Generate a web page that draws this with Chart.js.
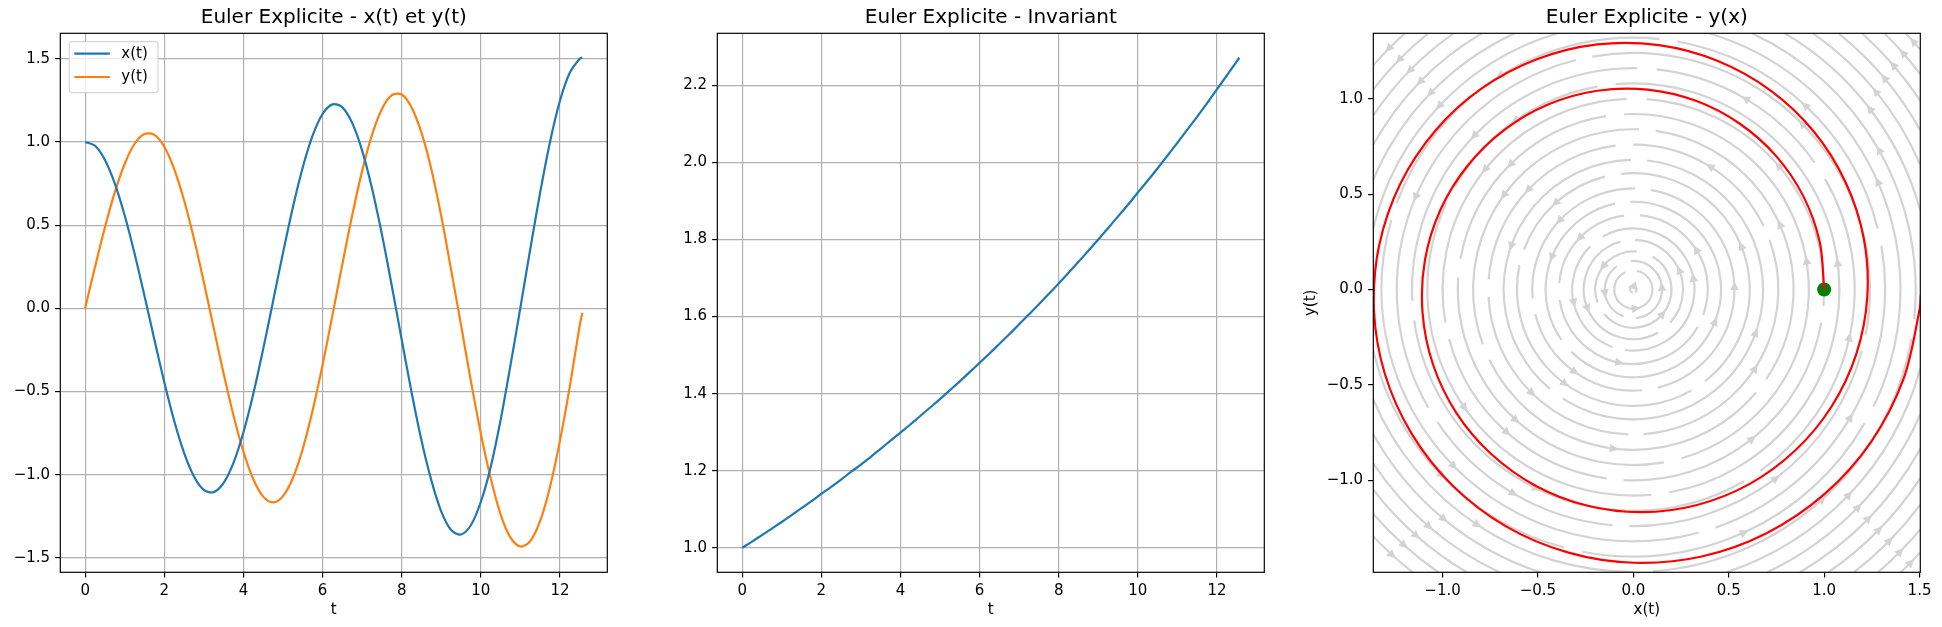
<!DOCTYPE html>
<html><head><meta charset="utf-8">
<script src="https://cdn.jsdelivr.net/npm/chart.js@4.4.0/dist/chart.umd.min.js"></script>
<style>
html,body{margin:0;padding:0;background:#fff;width:1942px;height:627px;overflow:hidden}
canvas{position:absolute;top:0}
</style></head><body>
<canvas id="c1" width="650" height="627" style="left:0px"></canvas>
<canvas id="c2" width="650" height="627" style="left:650px"></canvas>
<canvas id="c3" width="642" height="627" style="left:1300px"></canvas>
<script>
// ---------------- data ----------------
const tValues = [0,0.25,0.5,0.75,1,1.25,1.5,1.75,2,2.25,2.5,2.75,3,3.25,3.5,3.75,4,4.25,4.5,4.75,5,5.25,5.5,5.75,6,6.25,6.5,6.75,7,7.25,7.5,7.75,8,8.25,8.5,8.75,9,9.25,9.5,9.75,10,10.25,10.5,10.75,11,11.25,11.5,11.75,12,12.25,12.5,12.566];
const xValues = [1.000,0.977,0.892,0.750,0.558,0.328,0.074,-0.189,-0.444,-0.676,-0.869,-1.011,-1.092,-1.105,-1.050,-0.928,-0.745,-0.513,-0.244,0.044,0.334,0.608,0.848,1.039,1.168,1.226,1.208,1.113,0.948,0.720,0.443,0.134,-0.189,-0.506,-0.795,-1.036,-1.222,-1.333,-1.360,-1.303,-1.163,-0.952,-0.670,-0.340,0.006,0.358,0.698,1.003,1.249,1.417,1.501,1.507];
const yValues = [0.000,0.249,0.487,0.698,0.869,0.989,1.048,1.042,0.971,0.837,0.649,0.418,0.156,-0.120,-0.393,-0.646,-0.862,-1.028,-1.132,-1.167,-1.129,-1.020,-0.844,-0.613,-0.340,-0.041,0.266,0.561,0.826,1.043,1.198,1.281,1.285,1.207,1.054,0.835,0.553,0.228,-0.103,-0.440,-0.754,-1.023,-1.240,-1.379,-1.432,-1.399,-1.277,-1.071,-0.794,-0.466,-0.100,-0.027];
const invValues = [1.000,1.016,1.033,1.050,1.067,1.085,1.103,1.121,1.140,1.158,1.177,1.197,1.216,1.236,1.257,1.278,1.299,1.320,1.342,1.364,1.386,1.409,1.432,1.456,1.480,1.504,1.529,1.554,1.580,1.606,1.632,1.659,1.686,1.714,1.742,1.771,1.800,1.830,1.860,1.890,1.922,1.953,1.985,2.018,2.051,2.085,2.119,2.154,2.190,2.226,2.262,2.272];
const startPoint = [1, 0];

const tTicks = [0,2,4,6,8,10,12];
const xyTicks = [-1.5,-1.0,-0.5,0.0,0.5,1.0,1.5];
const invTicks = [1.0,1.2,1.4,1.6,1.8,2.0,2.2];
const phaseXTicks = [-1.0,-0.5,0.0,0.5,1.0,1.5];
const phaseYTicks = [-1.0,-0.5,0.0,0.5,1.0];

const titles = ['Euler Explicite - x(t) et y(t)', 'Euler Explicite - Invariant', 'Euler Explicite - y(x)'];
const seriesLabels = ['x(t)', 'y(t)'];

// streamlines of the background field: [radius, startAngleDeg, endAngleDeg], counter-clockwise,
// one arrow in the middle of each piece
const streamArcs = [
  [0.017, 300, 620],
  [0.10, 115, 440],
  [0.15, 125, 250], [0.15, 275, 455],
  [0.20, 85, 200], [0.20, 220, 420],
  [0.26, 105, 300], [0.26, 318, 448],
  [0.32, 135, 250], [0.32, 262, 480],
  [0.39, 97, 175], [0.39, 188, 330], [0.39, 340, 445],
  [0.46, 102, 215], [0.46, 225, 452],
  [0.53, 89, 185], [0.53, 194, 275], [0.53, 284, 440],
  [0.61, 104, 160], [0.61, 168, 300], [0.61, 308, 456],
  [0.68, 91, 230], [0.68, 237, 444],
  [0.76, 97, 176], [0.76, 183, 268], [0.76, 274, 380], [0.76, 26, 90],
  [0.84, 88, 200], [0.84, 206, 320], [0.84, 326, 442],
  [0.92, 99, 170], [0.92, 176, 280], [0.92, 286, 453],
  [1.00, 92, 190], [1.00, 195, 262], [1.00, 267, 350], [1.00, 355, 446],
  [1.08, 100, 150], [1.08, 155, 275], [1.08, 280, 455],
  [1.16, 89, 183], [1.16, 188, 300], [1.16, 305, 390], [1.16, 35, 84],
  [1.24, 104, 210], [1.24, 214, 265], [1.24, 269, 345], [1.24, 349, 460],
  [1.32, 84, 160], [1.32, 164, 285], [1.32, 289, 370], [1.32, 14, 80],
  [1.40, 106.4, 166.8], [1.40, 193.2, 255], [1.40, 259, 330], [1.40, 334, 433.6],
  [1.48, 114.8, 157.1], [1.48, 202.9, 270], [1.48, 274, 350], [1.48, 354, 425.2],
  [1.56, 120.6, 150.9], [1.56, 209.1, 251.8], [1.56, 288.2, 344.6], [1.56, 15.4, 59.4],
  [1.64, 125, 146.2], [1.64, 213.8, 244.6], [1.64, 295.4, 336.5], [1.64, 23.5, 55],
  [1.72, 128.7, 142.4], [1.72, 217.6, 239.5], [1.72, 300.5, 331], [1.72, 29, 51.3],
  [1.80, 131.7, 139.2], [1.80, 220.8, 235.4], [1.80, 304.6, 326.7], [1.80, 33.3, 48.3],
  [1.88, 223.5, 232], [1.88, 308, 323.1], [1.88, 36.9, 45.6],
  [1.96, 310.9, 320.1], [1.96, 39.9, 43.2],
  [2.04, 313.4, 317.5]
];

// ---------------- helpers ----------------
const FONT = 'DejaVu Sans';
const FS = 15;
const fmt1 = v => v.toFixed(1).replace('-', '\u2212');
const fmt0 = v => v.toFixed(0).replace('-', '\u2212');
const TICK = 5.2, LW = 1.18;

function axis(min, max, ticks, fmt, title, extra = {}, gridOnArea = true) {
  return Object.assign({
    type: 'linear', min, max,
    afterBuildTicks: s => { s.ticks = ticks.map(v => ({ value: v })); },
    ticks: { callback: v => fmt(v), color: '#000', font: { family: FONT, size: FS }, padding: 5.0, autoSkip: false, maxRotation: 0, minRotation: 0 },
    grid: { color: '#b0b0b0', lineWidth: LW, tickColor: '#000', tickLength: TICK, tickWidth: LW, drawOnChartArea: gridOnArea },
    border: { display: false },
    title: title ? Object.assign({ display: true, color: '#000', font: { family: FONT, size: FS } }, title) : { display: false }
  }, extra);
}

const framePlugin = {
  id: 'frame',
  afterDraw(chart) {
    const { ctx, chartArea: a } = chart;
    ctx.save();
    ctx.strokeStyle = '#000'; ctx.lineWidth = LW;
    ctx.strokeRect(a.left, a.top, a.right - a.left, a.bottom - a.top);
    ctx.restore();
  }
};

const legendPlugin = {
  id: 'mplLegend',
  afterDraw(chart) {
    const { ctx, chartArea: a } = chart;
    const x0 = a.left + 9, y0 = a.top + 8.4, w = 88.7, h = 51;
    ctx.save();
    ctx.beginPath();
    if (ctx.roundRect) ctx.roundRect(x0, y0, w, h, 3); else ctx.rect(x0, y0, w, h);
    ctx.fillStyle = 'rgba(255,255,255,0.8)'; ctx.fill();
    ctx.strokeStyle = 'rgba(204,204,204,0.8)'; ctx.lineWidth = LW; ctx.stroke();
    chart.data.datasets.forEach((ds, i) => {
      const yy = y0 + 12 + i * 23.3;
      ctx.beginPath(); ctx.moveTo(x0 + 5, yy); ctx.lineTo(x0 + 40.5, yy);
      ctx.strokeStyle = ds.borderColor; ctx.lineWidth = 2.2; ctx.stroke();
      ctx.fillStyle = '#000'; ctx.font = FS + 'px "DejaVu Sans"'; ctx.textBaseline = 'middle'; ctx.textAlign = 'left';
      ctx.fillText(ds.label, x0 + 52, yy);
    });
    ctx.restore();
  }
};

const streamPlugin = {
  id: 'stream',
  beforeDatasetsDraw(chart) {
    const { ctx, chartArea: a, scales: { x, y } } = chart;
    const cx = x.getPixelForValue(0), cy = y.getPixelForValue(0);
    const kx = x.getPixelForValue(1) - cx, ky = cy - y.getPixelForValue(1);
    const rad = Math.PI / 180;
    ctx.save();
    ctx.beginPath(); ctx.rect(a.left, a.top, a.right - a.left, a.bottom - a.top); ctx.clip();
    ctx.strokeStyle = '#d3d3d3'; ctx.fillStyle = '#d3d3d3';
    for (const [r, a0, a1] of streamArcs) {
      ctx.lineWidth = 2.2;
      ctx.beginPath();
      ctx.ellipse(cx, cy, r * kx, r * ky, 0, -a1 * rad, -a0 * rad);
      ctx.stroke();
      const m = (a0 + a1) / 2 * rad;
      const px = cx + r * kx * Math.cos(m), py = cy - r * ky * Math.sin(m);
      const dx = -Math.sin(m), dy = -Math.cos(m);
      const L = 6.5, W = 3.2;
      ctx.beginPath();
      ctx.moveTo(px + dx * L / 2, py + dy * L / 2);
      ctx.lineTo(px - dx * L / 2 - dy * W, py - dy * L / 2 + dx * W);
      ctx.lineTo(px - dx * L / 2 + dy * W, py - dy * L / 2 - dx * W);
      ctx.closePath();
      ctx.lineWidth = 1.4; ctx.lineJoin = 'miter';
      ctx.fill(); ctx.stroke();
    }
    ctx.restore();
  }
};

function basePlugins(title) {
  return {
    legend: { display: false }, tooltip: { enabled: false },
    title: { display: true, text: title, fullSize: false, color: '#000', font: { family: FONT, size: 20, weight: 'normal', lineHeight: 1.2 }, padding: { top: 5.5, bottom: 3.8 } }
  };
}

const common = { responsive: false, animation: false, devicePixelRatio: 1, events: [] };
const xFit = { afterFit: s => { s.height = 627 - 572.3; } };
const xTitle = txt => ({ text: txt, padding: { top: 0, bottom: 8.2 } });

// ---------- panel 1 ----------
new Chart(document.getElementById('c1'), {
  type: 'scatter',
  data: {
    datasets: [
      { label: seriesLabels[0], data: tValues.map((t, i) => ({ x: t, y: xValues[i] })), showLine: true, borderColor: '#1f77b4', borderWidth: 2.2, pointRadius: 0, tension: 0.33, clip: 0 },
      { label: seriesLabels[1], data: tValues.map((t, i) => ({ x: t, y: yValues[i] })), showLine: true, borderColor: '#ff7f0e', borderWidth: 2.2, pointRadius: 0, tension: 0.33, clip: 0 }
    ]
  },
  options: Object.assign({}, common, {
    layout: { padding: { left: 0, right: 650 - 607.3, top: 0, bottom: 0 } },
    plugins: basePlugins(titles[0]),
    scales: {
      x: axis(-0.628, 13.195, tTicks, fmt0, xTitle('t'), xFit),
      y: axis(-1.587, 1.653, xyTicks, fmt1, null, { afterFit: s => { s.width = 60.3; } })
    }
  }),
  plugins: [framePlugin, legendPlugin]
});

// ---------- panel 2 ----------
new Chart(document.getElementById('c2'), {
  type: 'scatter',
  data: {
    datasets: [
      { label: 'invariant', data: tValues.map((t, i) => ({ x: t, y: invValues[i] })), showLine: true, borderColor: '#1f77b4', borderWidth: 2.2, pointRadius: 0, tension: 0.33, clip: 0 }
    ]
  },
  options: Object.assign({}, common, {
    layout: { padding: { left: 0, right: 650 - 614.3, top: 0, bottom: 0 } },
    plugins: basePlugins(titles[1]),
    scales: {
      x: axis(-0.628, 13.195, tTicks, fmt0, xTitle('t'), xFit),
      y: axis(0.9365, 2.335, invTicks, fmt1, null, { afterFit: s => { s.width = 67.3; } })
    }
  }),
  plugins: [framePlugin]
});

// ---------- panel 3 ----------
new Chart(document.getElementById('c3'), {
  type: 'scatter',
  data: {
    datasets: [
      { label: 'trajectoire', data: xValues.map((v, i) => ({ x: v, y: yValues[i] })), showLine: true, borderColor: '#ff0000', borderWidth: 2.2, pointRadius: 0, tension: 0.33, clip: 0 },
      { label: 'depart', data: [{ x: startPoint[0], y: startPoint[1] }], showLine: false, pointRadius: 7, backgroundColor: '#008000', borderWidth: 0, clip: false }
    ]
  },
  options: Object.assign({}, common, {
    layout: { padding: { left: 0, right: 642 - 620.3, top: 0, bottom: 0 } },
    plugins: basePlugins(titles[2]),
    scales: {
      x: axis(-1.363, 1.504, phaseXTicks, fmt1, xTitle('x(t)'), xFit, false),
      y: axis(-1.482, 1.343, phaseYTicks, fmt1, { text: 'y(t)', padding: { top: 2.3, bottom: 0 } }, { afterFit: s => { s.width = 73.3; } }, false)
    }
  }),
  plugins: [framePlugin, streamPlugin]
});
</script>
</body></html>
